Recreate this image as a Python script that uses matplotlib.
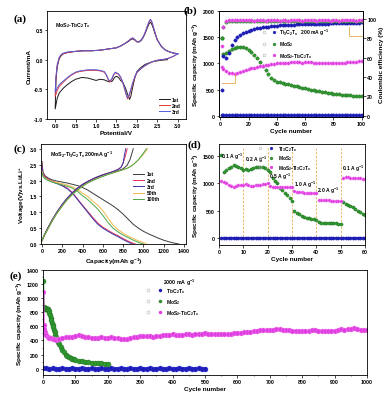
import numpy as np
import matplotlib
matplotlib.use("Agg")
import matplotlib.pyplot as plt
from matplotlib.lines import Line2D
from matplotlib.legend_handler import HandlerTuple

plt.rcParams['font.family'] = ['Liberation Sans', 'DejaVu Sans']
plt.rcParams['font.weight'] = 'bold'
plt.rcParams['axes.labelweight'] = 'bold'
plt.rcParams['mathtext.fontset'] = 'custom'
plt.rcParams['mathtext.rm'] = 'Liberation Sans:bold'
plt.rcParams['mathtext.bf'] = 'Liberation Sans:bold'
plt.rcParams['mathtext.it'] = 'Liberation Sans:bold:italic'
plt.rcParams['mathtext.default'] = 'rm'

# ---------------- colours ----------------
C_TI = '#1c1cb4'
C_MO = '#2f9a2f'
C_MO_E = '#1d6a1d'
C_CP = '#e03ae0'
C_OR = '#e9a84c'

COMP = 'MoS$_2$-Ti$_3$C$_2$T$_x$'
TI = 'Ti$_3$C$_2$T$_x$'
MO = 'MoS$_2$'

# ---------------- (a) CV data ----------------
cv1_v = [2.75, 2.6, 2.4, 2.2, 2.1, 2.0, 1.95, 1.9, 1.85, 1.82, 1.78, 1.72, 1.65, 1.6, 1.55, 1.5, 1.45, 1.4,
         1.35, 1.3, 1.2, 1.1, 1.0, 0.9, 0.8, 0.65, 0.5, 0.4, 0.3, 0.2, 0.1, 0.05, 0.0,
         0.02, 0.05, 0.1, 0.15, 0.2, 0.3, 0.5, 0.7, 0.9, 1.1, 1.3, 1.5, 1.6, 1.7, 1.8, 1.85, 1.9, 1.95, 2.0,
         2.05, 2.1, 2.15, 2.2, 2.25, 2.3, 2.33, 2.36, 2.4, 2.45, 2.5, 2.6, 2.7, 2.8, 2.9, 3.0]
cv1_i = [0.0, -0.01, -0.03, -0.08, -0.13, -0.2, -0.3, -0.45, -0.62, -0.67, -0.6, -0.48, -0.38, -0.35, -0.3, -0.28,
         -0.3, -0.36, -0.37, -0.37, -0.34, -0.33, -0.35, -0.33, -0.31, -0.3, -0.33, -0.37, -0.42, -0.48, -0.56,
         -0.65, -0.83,
         -0.35, -0.12, 0.02, 0.07, 0.1, 0.12, 0.14, 0.15, 0.15, 0.16, 0.18, 0.2, 0.23, 0.27, 0.31, 0.34, 0.35,
         0.33, 0.3, 0.3, 0.32, 0.37, 0.44, 0.53, 0.61, 0.63, 0.6, 0.53, 0.42, 0.33, 0.22, 0.16, 0.13, 0.11, 0.10]

cv2_v = [3.0, 2.9, 2.8, 2.7, 2.6, 2.5, 2.4, 2.3, 2.2, 2.1, 2.0, 1.95, 1.9, 1.85, 1.8, 1.77, 1.74, 1.7, 1.65,
         1.6, 1.55, 1.5, 1.47, 1.43, 1.38, 1.33, 1.3, 1.25, 1.2, 1.1, 1.0, 0.9, 0.8, 0.7, 0.6, 0.5, 0.4, 0.3,
         0.2, 0.1, 0.05, 0.0,
         0.02, 0.05, 0.1, 0.15, 0.2, 0.3, 0.5, 0.7, 0.9, 1.1, 1.3, 1.5, 1.6, 1.7, 1.8, 1.85, 1.9, 1.95, 2.0,
         2.05, 2.1, 2.15, 2.2, 2.25, 2.3, 2.33, 2.36, 2.4, 2.45, 2.5, 2.6, 2.7, 2.8, 2.9, 3.0]
cv2_i = [0.10, 0.06, 0.03, 0.01, 0.0, -0.01, -0.03, -0.06, -0.1, -0.15, -0.22, -0.3, -0.4, -0.52, -0.63,
         -0.66, -0.6, -0.5, -0.38, -0.3, -0.25, -0.23, -0.22, -0.26, -0.34, -0.38, -0.34, -0.26, -0.21, -0.19,
         -0.18, -0.18, -0.18, -0.19, -0.2, -0.22, -0.26, -0.31, -0.38, -0.45, -0.52, -0.62,
         -0.3, -0.1, 0.03, 0.08, 0.1, 0.12, 0.14, 0.15, 0.15, 0.16, 0.18, 0.2, 0.23, 0.27, 0.32, 0.35, 0.36,
         0.33, 0.3, 0.3, 0.33, 0.38, 0.45, 0.55, 0.64, 0.67, 0.64, 0.55, 0.43, 0.33, 0.22, 0.16, 0.13, 0.11, 0.10]

cv3_v = cv2_v
cv3_i = [0.10, 0.06, 0.03, 0.01, 0.0, -0.01, -0.03, -0.06, -0.1, -0.15, -0.21, -0.28, -0.38, -0.5, -0.61,
         -0.64, -0.59, -0.49, -0.37, -0.29, -0.24, -0.22, -0.21, -0.25, -0.33, -0.36, -0.33, -0.25, -0.2,
         -0.18, -0.17, -0.17, -0.17, -0.18, -0.19, -0.21, -0.25, -0.3, -0.36, -0.42, -0.48, -0.55,
         -0.28, -0.08, 0.04, 0.09, 0.11, 0.13, 0.14, 0.15, 0.15, 0.16, 0.18, 0.2, 0.23, 0.27, 0.32, 0.35, 0.37,
         0.34, 0.3, 0.3, 0.33, 0.38, 0.46, 0.56, 0.65, 0.68, 0.65, 0.56, 0.44, 0.33, 0.22, 0.16, 0.13, 0.11, 0.10]

# ---------------- (b) cycling at 200 mA/g ----------------
cyc_b = [1] + list(range(2, 101, 2))
cap_ti_b = [10, 9, 8, 8, 7, 7, 7, 6, 6, 6, 6, 6, 6, 6, 5, 5, 5, 5, 5, 5, 5, 5, 5, 5, 5, 5,
            5, 5, 5, 5, 5, 5, 5, 5, 5, 5, 5, 5, 5, 5, 5, 5, 5, 5, 5, 5, 5, 5, 5, 5, 5]
cap_mo_b = [1480, 1180, 1200, 1240, 1275, 1300, 1315, 1320, 1312, 1295, 1260, 1215, 1160, 1095, 1025, 950,
            870, 790, 725, 680, 652, 636, 622, 608, 596, 583, 570, 558, 545, 532, 520, 508, 496, 485, 474,
            464, 455, 446, 438, 430, 423, 416, 410, 404, 398, 393, 388, 383, 378, 373, 369]
cap_cp_b = [930, 900, 855, 825, 808, 805, 815, 830, 850, 870, 890, 905, 918, 930, 942, 952, 962, 972, 982,
            990, 998, 1003, 1008, 1010, 1014, 1018, 1020, 1024, 1020, 1016, 1020, 1024, 1020, 1014, 1010,
            1010, 1014, 1010, 1005, 1008, 1004, 1000, 1004, 1010, 1015, 1020, 1025, 1030, 1034, 1040, 1045]
ce_ti_b = [27, 62, 59, 65, 73, 78, 81, 83, 85, 86.5, 87.5, 88.5, 89.3, 90, 90.6, 91, 91.5, 92, 92.3, 92.6,
           92.9, 93.1, 93.3, 93.5, 93.6, 93.8, 94, 94.1, 94.2, 94.3, 94.5, 94.6, 94.7, 94.8, 94.8, 94.9, 95,
           95.1, 95.1, 95.2, 95.3, 95.3, 95.4, 95.5, 95.5, 95.6, 95.7, 95.8, 95.9, 96, 96.2]
ce_mo_b = [80, 92, 97, 97.5, 97.4, 97.6, 97.5, 97.3, 97.5, 97.6, 97.4, 97.5, 97.6, 97.5, 97.4, 97.5, 97.6,
           97.5, 97.4, 97.5, 97.6, 97.5, 97.4, 97.5, 97.6, 97.5, 97.4, 97.5, 97.6, 97.5, 97.4, 97.5, 97.6,
           97.5, 97.4, 97.5, 97.6, 97.5, 97.4, 97.5, 97.6, 97.5, 97.4, 97.5, 97.6, 97.5, 97.4, 97.5, 97.6,
           97.5, 97.4]
ce_cp_b = [72, 91, 97.5, 98.5, 99, 98.8, 98.4, 98.9, 98.2, 98.6, 98.3, 98.7, 98.1, 98.5, 98.2, 98.6, 98.0,
           98.4, 98.7, 98.2, 98.5, 98.1, 98.6, 98.3, 98.0, 98.5, 98.2, 98.6, 98.3, 98.1, 98.4, 98.6, 98.2,
           98.5, 98.0, 98.3, 98.6, 98.2, 98.4, 98.1, 98.5, 98.3, 98.0, 98.4, 98.6, 98.2, 98.5, 98.3, 98.1,
           98.4, 98.2]

# ---------------- (c) charge / discharge ----------------
d1_c = [0, 10, 30, 60, 100, 150, 200, 250, 300, 350, 400, 450, 500, 550, 600, 650, 700, 750, 800, 850, 900,
        950, 1000, 1050, 1100, 1150, 1200, 1250, 1300, 1350]
d1_v = [2.6, 2.25, 2.15, 2.08, 2.02, 1.98, 1.95, 1.92, 1.88, 1.84, 1.78, 1.7, 1.6, 1.5, 1.4, 1.3, 1.2, 1.08,
        0.94, 0.78, 0.62, 0.5, 0.4, 0.32, 0.25, 0.18, 0.12, 0.07, 0.03, 0.0]
d2_c = [0, 10, 30, 60, 100, 150, 200, 250, 300, 350, 400, 450, 500, 550, 600, 650, 700, 750, 800, 850, 900, 920]
d2_v = [2.5, 2.2, 2.12, 2.05, 1.98, 1.92, 1.85, 1.76, 1.62, 1.42, 1.22, 1.03, 0.84, 0.66, 0.53, 0.43, 0.34,
        0.26, 0.17, 0.09, 0.02, 0.0]
d3_c = [0, 10, 30, 60, 100, 150, 200, 250, 300, 350, 400, 450, 500, 550, 600, 650, 700, 750, 800, 850, 890]
d3_v = [2.45, 2.18, 2.1, 2.03, 1.96, 1.9, 1.83, 1.74, 1.6, 1.4, 1.2, 1.0, 0.8, 0.62, 0.5, 0.4, 0.31, 0.23,
        0.14, 0.06, 0.0]
d50_c = [0, 10, 30, 60, 100, 150, 200, 250, 300, 350, 400, 450, 500, 550, 600, 650, 700, 750, 800, 850, 900,
         950, 1000, 1030]
d50_v = [2.3, 2.15, 2.08, 2.02, 1.97, 1.93, 1.9, 1.86, 1.8, 1.72, 1.6, 1.5, 1.35, 1.22, 1.05, 0.82, 0.6,
         0.45, 0.34, 0.25, 0.17, 0.1, 0.04, 0.0]
d100_c = [0, 10, 30, 60, 100, 150, 200, 250, 300, 350, 400, 450, 500, 550, 600, 650, 700, 750, 800, 850, 900,
          950, 1000]
d100_v = [2.25, 2.12, 2.05, 2.0, 1.95, 1.9, 1.86, 1.82, 1.76, 1.66, 1.52, 1.4, 1.25, 1.1, 0.9, 0.68, 0.5,
          0.38, 0.28, 0.2, 0.12, 0.05, 0.0]

ch_c_short = [0, 20, 50, 100, 150, 200, 250, 300, 350, 400, 450, 500, 550, 600, 650, 700, 750, 780, 800, 820, 840]
ch2_v = [0.1, 0.25, 0.45, 0.75, 1.02, 1.25, 1.45, 1.62, 1.76, 1.88, 1.97, 2.05, 2.12, 2.18, 2.23, 2.28, 2.35,
         2.42, 2.55, 2.75, 3.0]
ch3_c = [0, 20, 50, 100, 150, 200, 250, 300, 350, 400, 450, 500, 550, 600, 650, 700, 750, 780, 800, 810, 825]
ch1_c = [0, 20, 50, 100, 150, 200, 250, 300, 350, 400, 450, 500, 550, 600, 650, 700, 750, 800, 840, 870, 900]
ch1_v = [0.12, 0.27, 0.47, 0.76, 1.02, 1.24, 1.43, 1.6, 1.74, 1.86, 1.96, 2.04, 2.11, 2.17, 2.22, 2.27, 2.31,
         2.37, 2.48, 2.68, 3.0]
ch_long_c = [0, 20, 50, 100, 150, 200, 250, 300, 350, 400, 450, 500, 550, 600, 650, 700, 750, 800, 850, 900,
             950, 1000, 1040]
ch50_v = [0.1, 0.24, 0.42, 0.72, 0.98, 1.2, 1.4, 1.56, 1.7, 1.82, 1.92, 2.0, 2.07, 2.13, 2.19, 2.24, 2.29,
          2.34, 2.4, 2.5, 2.65, 2.82, 3.0]
ch100_c = [0, 20, 50, 100, 150, 200, 250, 300, 350, 400, 450, 500, 550, 600, 650, 700, 750, 800, 850, 900,
           950, 990, 1030]

# ---------------- (d) rate ----------------
cyc_d = list(range(1, 61))
cap_ti_d = [5, 4, 4, 3, 3, 3, 3, 3, 3, 3, 3, 3, 3, 3, 3, 3, 3, 3, 3, 3, 2, 2, 2, 2, 2, 2, 2, 2, 2, 2,
            2, 2, 2, 2, 2, 2, 2, 2, 2, 2, 2, 2, 2, 2, 2, 2, 2, 2, 2, 2, 3, 3, 3, 3, 3, 3, 3, 3, 3, 3]
cap_mo_d = [1520, 1210, 1250, 1280, 1300, 1330, 1320, 1300, 1280, 1250, 1270, 1250, 1260, 1280, 1290, 1300,
            1300, 1290, 1280, 1250, 1200, 1100, 1050, 1000, 920, 880, 830, 780, 730, 680, 490, 460, 430, 410,
            390, 370, 360, 350, 340, 330, 290, 280, 275, 272, 270, 268, 266, 264, 262, 260, 650, 630, 610,
            590, 560, 530, 500, 470, 440, 420]
cap_cp_d = [1050, 1020, 1000, 960, 950, 940, 950, 960, 960, 970, 980, 960, 950, 950, 960, 960, 970, 980, 990,
            1000, 950, 940, 935, 935, 930, 930, 930, 935, 930, 930, 850, 845, 840, 835, 830, 830, 825, 825,
            820, 820, 700, 695, 690, 690, 688, 685, 685, 682, 680, 680, 1100, 1110, 1110, 1105, 1100, 1100,
            1095, 1090, 1085, 1080]
rate_pos = [10, 20, 30, 40, 50]
rate_lbl = ['0.1 A g$^{-1}$', '0.2 A g$^{-1}$', '0.5 A g$^{-1}$', '1.0 A g$^{-1}$', '2.0 A g$^{-1}$',
            '0.1 A g$^{-1}$']
rate_lbl_x = [0.8, 10.6, 20.4, 30.7, 40.4, 50.6]
rate_lbl_y = [1400, 1350, 1040, 900, 780, 1190]

# ---------------- (e) long cycling at 2000 mA/g ----------------
cyc_ti_e = [1] + list(range(10, 501, 10))
cap_ti_e = [3, 3, 2, 3, 2, 2, 3, 2, 2, 3, 2, 2, 3, 2, 2, 3, 2, 2, 3, 2, 2, 3, 2, 2, 3, 2,
            2, 3, 2, 2, 3, 2, 2, 3, 2, 2, 3, 2, 2, 3, 2, 2, 3, 2, 2, 3, 2, 2, 3, 2, 2]
cyc_mo_e = [1, 2, 3, 4, 6, 8, 10, 12, 14, 16, 18, 20, 22, 24, 26, 28, 30, 32, 34, 36, 38, 40, 43, 46, 50,
            55, 60, 65, 70, 75, 80, 85, 90, 95, 100, 110, 120, 130, 140, 150, 160, 170, 180, 190, 200]
cap_mo_e = [1250, 880, 860, 850, 845, 850, 855, 850, 845, 835, 815, 790, 760, 725, 690, 655, 620, 585, 550,
            515, 480, 450, 415, 385, 350, 305, 265, 230, 200, 180, 165, 152, 140, 132, 125, 112, 102, 95, 89,
            84, 80, 77, 74, 72, 70]
cyc_cp_e = [1, 2, 3, 5, 7, 10, 15, 20, 25, 30, 35, 40, 45, 50] + list(range(60, 1001, 10))
cap_cp_e = [1090, 620, 560, 520, 495, 475, 455, 440, 430, 420, 415, 412, 418, 425,
            440, 448, 450, 452, 460, 480, 465, 452, 445, 440,
            438, 440, 445, 440, 435, 445, 440, 432, 425, 420,
            422, 435, 450, 455, 458, 460, 462, 458, 455, 460,
            468, 472, 478, 482, 485, 480, 478, 482, 486, 488,
            484, 490, 495, 498, 505, 498, 492, 490, 495, 492,
            488, 485, 490, 500, 508, 512, 518, 522, 525, 530,
            535, 545, 548, 550, 552, 555, 558, 560, 555, 550,
            545, 540, 538, 535, 532, 535, 540, 545, 555, 540,
            535, 532, 535, 538, 540, 548, 558, 552, 558, 565,
            570, 560, 550, 545, 542]

# ================= figure =================
fig = plt.figure(figsize=(3.91, 4.06), dpi=100)
W, H = 391.0, 406.0


def add_ax(l, t, r, b):
    return fig.add_axes([l / W, 1 - b / H, (r - l) / W, (b - t) / H])


TS = 3.8   # tick label size
LS = 4.6   # axis label size


def style(ax):
    ax.tick_params(labelsize=TS, width=0.5, length=1.8, pad=1.2)
    for s in ax.spines.values():
        s.set_linewidth(0.6)


def leg_handles(markersize=2.2):
    hs = []
    for c, e in [(C_TI, C_TI), (C_MO, C_MO_E), (C_CP, C_CP)]:
        o = Line2D([], [], ls='', marker='o', mfc='none', mec='#b0b0b0', mew=0.4, ms=markersize)
        f = Line2D([], [], ls='', marker='o', mfc=c, mec=e, mew=0.3, ms=markersize)
        hs.append((o, f))
    return hs


# ---------- (a) ----------
axa = add_ax(47, 12, 186, 120)
axa.plot(cv1_v, cv1_i, color='#1a1a1a', lw=0.7, label='1st')
axa.plot(cv2_v, cv2_i, color='#e23a3a', lw=0.7, label='2nd')
axa.plot(cv3_v, cv3_i, color='#5a5ad8', lw=0.7, label='3rd')
axa.set_xlim(-0.2, 3.2)
axa.set_ylim(-1.0, 0.82)
axa.set_xticks([0.0, 0.5, 1.0, 1.5, 2.0, 2.5, 3.0])
axa.set_yticks([-1.0, -0.5, 0.0, 0.5])
axa.xaxis.set_major_formatter(matplotlib.ticker.FormatStrFormatter('%.1f'))
axa.yaxis.set_major_formatter(matplotlib.ticker.FormatStrFormatter('%.1f'))
axa.set_xlabel('Potential/V', fontsize=LS, labelpad=1.5)
axa.set_ylabel('Current/mA', fontsize=LS, labelpad=1.5)
axa.text(0.06, 0.92, COMP, transform=axa.transAxes, fontsize=3.8, va='top')
axa.legend(loc='lower right', fontsize=3.6, frameon=False, handlelength=2.2, labelspacing=0.25,
           borderaxespad=0.6, handletextpad=0.5)
style(axa)

# ---------- (b) ----------
axb = add_ax(219, 12, 363, 118)
axb2 = axb.twinx()
ms_b = 2.4
axb.plot(cyc_b, cap_ti_b, ls='', marker='o', ms=ms_b, mfc=C_TI, mec=C_TI, mew=0.3)
axb.plot(cyc_b, cap_mo_b, ls='', marker='o', ms=ms_b, mfc=C_MO, mec=C_MO_E, mew=0.3)
axb.plot(cyc_b, cap_cp_b, ls='', marker='o', ms=ms_b, mfc=C_CP, mec='#f08af0', mew=0.3)
axb2.plot(cyc_b, ce_ti_b, ls='', marker='o', ms=ms_b, mfc=C_TI, mec=C_TI, mew=0.3)
axb2.plot(cyc_b, ce_mo_b, ls='', marker='o', ms=ms_b, mfc=C_MO, mec=C_MO_E, mew=0.3)
axb2.plot(cyc_b, ce_cp_b, ls='', marker='o', ms=ms_b, mfc=C_CP, mec='#f08af0', mew=0.3)
axb.set_xlim(-1, 101)
axb.set_ylim(-25, 2000)
axb2.set_ylim(-25 * 108 / 2000, 108)
axb.set_xticks([0, 20, 40, 60, 80, 100])
axb.set_yticks([0, 500, 1000, 1500, 2000])
axb2.set_yticks([0, 20, 40, 60, 80, 100])
axb.set_xlabel('Cycle number', fontsize=LS, labelpad=1.5)
axb.set_ylabel('Specific capacity (mAh g$^{-1}$)', fontsize=LS, labelpad=1.5)
axb2.set_ylabel('Coulombic efficiency (%)', fontsize=LS, labelpad=2)
axb.plot([10, 10, 1], [800, 620, 620], color=C_OR, lw=0.6)
axb.plot([91, 91, 100], [1700, 1530, 1530], color=C_OR, lw=0.6)
axb.legend(leg_handles(2.0), [TI + '   200 mA g$^{-1}$', MO, COMP],
           handler_map={tuple: HandlerTuple(ndivide=None, pad=0.3)},
           loc='upper left', bbox_to_anchor=(0.27, 0.88), fontsize=3.6, frameon=False,
           handlelength=3.4, labelspacing=0.55, handletextpad=0.3, borderpad=0)
style(axb)
style(axb2)

# ---------- (c) ----------
axc = add_ax(41, 145, 186, 245)
cols_c = ['#3a3a3a', '#e8305a', '#3a34a8', '#f2b84a', '#4aa64a']
axc.plot(d1_c, d1_v, color=cols_c[0], lw=0.7, label='1st')
axc.plot(d2_c, d2_v, color=cols_c[1], lw=0.7, label='2nd')
axc.plot(d3_c, d3_v, color=cols_c[2], lw=0.7, label='3rd')
axc.plot(d50_c, d50_v, color=cols_c[3], lw=0.7, label='50th')
axc.plot(d100_c, d100_v, color=cols_c[4], lw=0.7, label='100th')
axc.plot(ch1_c, ch1_v, color=cols_c[0], lw=0.7)
axc.plot(ch_c_short, ch2_v, color=cols_c[1], lw=0.7)
axc.plot(ch3_c, ch2_v, color=cols_c[2], lw=0.7)
axc.plot(ch_long_c, ch50_v, color=cols_c[3], lw=0.7)
axc.plot(ch100_c, ch50_v, color=cols_c[4], lw=0.7)
axc.set_xlim(-10, 1420)
axc.set_ylim(0, 3.15)
axc.set_xticks([0, 200, 400, 600, 800, 1000, 1200, 1400])
axc.set_yticks([0.0, 0.5, 1.0, 1.5, 2.0, 2.5, 3.0])
axc.yaxis.set_major_formatter(matplotlib.ticker.FormatStrFormatter('%.1f'))
axc.set_xlabel('Capacity(mAh g$^{-1}$)', fontsize=LS, labelpad=1.5)
axc.set_ylabel('Voltage(V)vs.Li/Li$^{+}$', fontsize=LS, labelpad=1.5)
axc.text(0.06, 0.95, COMP + ' 200mA g$^{-1}$', transform=axc.transAxes, fontsize=3.8, va='top')
axc.legend(loc='upper left', bbox_to_anchor=(0.62, 0.75), fontsize=3.6, frameon=False, handlelength=2.2,
           labelspacing=0.25, handletextpad=0.5, borderpad=0)
style(axc)

# ---------- (d) ----------
axd = add_ax(219, 145, 365, 246)
ms_d = 2.3
axd.vlines(rate_pos, -30, 1650, colors=C_OR, linestyles=(0, (2.5, 2)), lw=0.6)
axd.plot(cyc_d, cap_ti_d, ls='-', lw=0.5, color=C_TI, marker='o', ms=ms_d, mfc=C_TI, mec=C_TI, mew=0.3)
axd.plot(cyc_d, cap_mo_d, ls='', marker='o', ms=ms_d, mfc=C_MO, mec=C_MO_E, mew=0.3)
axd.plot(cyc_d, cap_cp_d, ls='', marker='o', ms=ms_d, mfc=C_CP, mec='#f08af0', mew=0.3)
for x, y, t in zip(rate_lbl_x, rate_lbl_y, rate_lbl):
    axd.text(x, y, t, fontsize=3.6, va='bottom', ha='left')
axd.set_xlim(0, 60)
axd.set_ylim(-130, 1720)
axd.set_xticks([0, 10, 20, 30, 40, 50, 60])
axd.set_yticks([0, 500, 1000, 1500])
axd.set_xlabel('Cycle number', fontsize=LS, labelpad=1.5)
axd.set_ylabel('Specific capacity (mAh g$^{-1}$)', fontsize=LS, labelpad=1.5)
axd.legend(leg_handles(2.0), [TI, MO, COMP], handler_map={tuple: HandlerTuple(ndivide=None, pad=0.3)},
           loc='upper left', bbox_to_anchor=(0.225, 1.03), fontsize=3.5, frameon=False,
           handlelength=4.4, labelspacing=0.15, handletextpad=0.3, borderpad=0.1)
style(axd)

# ---------- (e) ----------
axe = add_ax(43, 271, 367, 376)
ms_e = 3.6
axe.plot(cyc_ti_e, cap_ti_e, ls='-', lw=2.0, color=C_TI, marker='o', ms=ms_e, mfc=C_TI, mec='#3a3ae0', mew=0.3)
axe.plot(cyc_mo_e, cap_mo_e, ls='-', lw=1.2, color=C_MO, marker='o', ms=ms_e, mfc=C_MO, mec=C_MO_E, mew=0.3)
axe.plot(cyc_cp_e, cap_cp_e, ls='-', lw=1.4, color=C_CP, marker='o', ms=ms_e, mfc=C_CP, mec='#f08af0', mew=0.3)
axe.set_xlim(0, 1000)
axe.set_ylim(-90, 1400)
axe.set_xticks(list(range(0, 1001, 100)))
axe.set_xticks(list(range(50, 1000, 100)), minor=True)
axe.set_yticks(list(range(0, 1401, 200)))
axe.set_yticks(list(range(100, 1400, 200)), minor=True)
axe.tick_params(which='minor', width=0.4, length=1.0)
axe.set_xlabel('Cycle number', fontsize=LS, labelpad=1.5)
axe.set_ylabel('Specific capacity (mAh g$^{-1}$)', fontsize=LS, labelpad=1.5)
axe.text(0.37, 0.94, '2000 mA g$^{-1}$', transform=axe.transAxes, fontsize=3.8, va='top')
axe.legend(leg_handles(2.2), [TI, MO, COMP], handler_map={tuple: HandlerTuple(ndivide=None, pad=0.3)},
           loc='upper left', bbox_to_anchor=(0.3, 0.87), fontsize=3.6, frameon=False,
           handlelength=4.4, labelspacing=0.4, handletextpad=0.3, borderpad=0)
style(axe)

# panel letters
for lab, x, y in [('(a)', 13, 19), ('(b)', 184, 11), ('(c)', 13, 149), ('(d)', 188, 145), ('(e)', 9, 276)]:
    fig.text(x / W, 1 - y / H, lab, fontsize=8, family='Liberation Serif', weight='bold', va='center')

fig.savefig('out.png', dpi=100)
